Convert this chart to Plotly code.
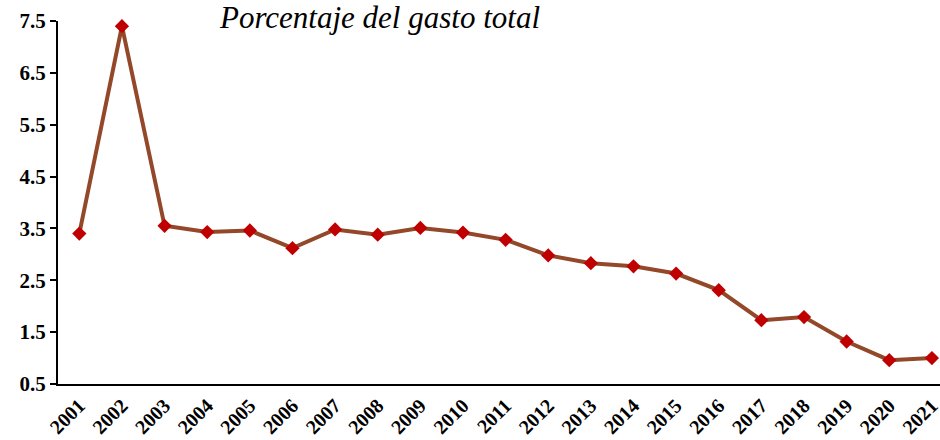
import plotly.graph_objects as go

years = [str(y) for y in range(2001, 2022)]
values = [3.40, 7.40, 3.55, 3.43, 3.46, 3.12, 3.48, 3.38, 3.51, 3.42, 3.28,
          2.98, 2.83, 2.77, 2.63, 2.31, 1.73, 1.79, 1.32, 0.96, 1.00]
y_ticks = [0.5, 1.5, 2.5, 3.5, 4.5, 5.5, 6.5, 7.5]
title_text = "Porcentaje del gasto total"

FONT = "Liberation Serif"

fig = go.Figure(go.Scatter(
    x=years, y=values, mode="lines+markers",
    line=dict(color="#94482A", width=4),
    marker=dict(symbol="diamond", color="#C00000", size=11),
    cliponaxis=False,
))

fig.update_layout(
    width=940, height=440,
    margin=dict(l=58, r=0, t=21, b=56),
    paper_bgcolor="white", plot_bgcolor="white",
    showlegend=False,
    font=dict(family=FONT, color="black"),
    annotations=[dict(
        text=title_text, xref="paper", yref="paper",
        x=0.365, y=1.0, xanchor="center", yanchor="middle",
        yshift=4, showarrow=False,
        font=dict(family=FONT, size=31, color="black", style="italic"),
    )],
)
fig.update_xaxes(
    type="category", showgrid=False, showline=True, linecolor="black", linewidth=2,
    ticks="", tickangle=-45, tickfont=dict(family=FONT, size=20, weight="bold"),
    range=[-0.5, 20.19], automargin=False,
)
fig.update_yaxes(
    range=[0.5, 7.5], tickvals=y_ticks, ticktext=[f"{v:.1f}" for v in y_ticks],
    showgrid=False, zeroline=False, showline=True, linecolor="black", linewidth=2,
    ticks="outside", ticklen=6, tickwidth=2, tickcolor="black",
    tickfont=dict(family=FONT, size=21, weight="bold"), automargin=False,
)

fig.write_html(
    "out.html",
    config={"displayModeBar": False},
    post_script="document.body.style.margin='0';document.body.style.overflow='hidden';",
)
